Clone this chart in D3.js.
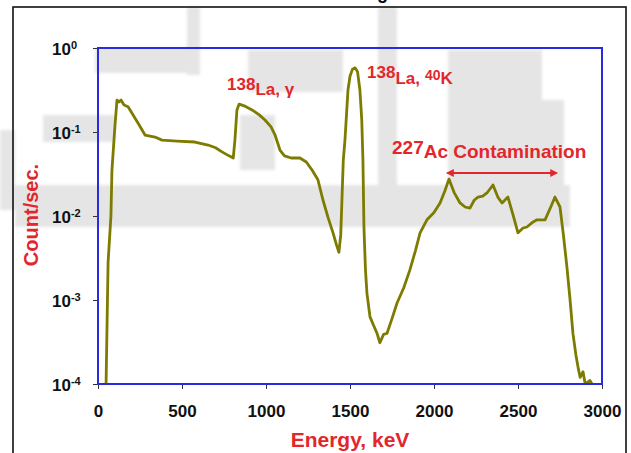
<!DOCTYPE html>
<html lang="en">
<head>
    <meta charset="UTF-8">
    <script src="https://cdnjs.cloudflare.com/ajax/libs/d3/7.8.5/d3.min.js"></script>
    <title>Spectrum</title>
    <style>
        body { margin: 0; background: #fff; }
        text { font-family: Arial, "Liberation Sans", sans-serif; font-weight: bold; }
    </style>
</head>
<body>
    <div class="fig"></div>

    <script>
        // Spectrum (energy in keV, counts per second)
        const energy = [48, 60, 77, 83, 101, 113, 125, 137, 155, 179, 238, 280, 339, 381, 470, 577, 655, 700, 738, 780, 805,
            815, 827, 840, 870, 917, 960, 994, 1030, 1054, 1083, 1110, 1150, 1202, 1240, 1275, 1309, 1339, 1370, 1399,
            1420, 1434, 1445, 1452, 1460, 1470, 1488, 1500, 1515, 1530, 1545, 1559, 1570, 1577, 1583, 1592, 1601, 1619,
            1640, 1661, 1678, 1700, 1720, 1750, 1780, 1820, 1857, 1890, 1917, 1958, 2000, 2036, 2065, 2089, 2120, 2155,
            2185, 2214, 2240, 2262, 2290, 2315, 2351, 2380, 2405, 2440, 2470, 2500, 2530, 2553, 2590, 2613, 2661, 2695,
            2720, 2750, 2770, 2791, 2810, 2827, 2845, 2857, 2870, 2887, 2900, 2928, 2940];
        const counts = [1.0e-4, 2.8e-3, 1.0e-2, 3.5e-2, 0.12, 0.24, 0.228, 0.24, 0.21, 0.20, 0.128, 0.092, 0.087, 0.080, 0.078,
            0.076, 0.070, 0.065, 0.058, 0.052, 0.049,
            0.080, 0.183, 0.215, 0.205, 0.183, 0.16, 0.139, 0.115, 0.092, 0.061, 0.052, 0.049, 0.049, 0.044, 0.035, 0.027,
            0.0155, 0.0095, 0.0063,
            0.0045, 0.0037, 0.006, 0.0155, 0.046, 0.080, 0.316, 0.46, 0.56, 0.58, 0.52, 0.316, 0.139, 0.046, 0.0074, 0.0023,
            0.0012, 6.3e-4,
            5.0e-4, 4.0e-4, 3.1e-4, 3.9e-4, 4.0e-4, 6.0e-4, 9.2e-4, 1.4e-3, 2.3e-3, 3.9e-3, 6.3e-3, 9.0e-3, 0.011, 0.0143,
            0.020, 0.0275, 0.019, 0.0143,
            0.0128, 0.0124, 0.0155, 0.0168, 0.0172, 0.0188, 0.0234, 0.0168, 0.0143, 0.0168, 0.0104, 0.0063, 0.0072, 0.0074,
            0.0085, 0.0090, 0.0090, 0.0128,
            0.0168, 0.0128, 0.006, 0.0025, 1.0e-3, 4.0e-4, 2.2e-4, 1.6e-4, 1.2e-4, 1.4e-4, 1.0e-4, 1.1e-4, 1.0e-4];

        const xTicks = [0, 500, 1000, 1500, 2000, 2500, 3000];
        const yTicks = [1e-4, 1e-3, 1e-2, 1e-1, 1];
        const yTickExp = ["-4", "-3", "-2", "-1", "0"];

        // 227Ac contamination range marked by the arrow (keV) and its height
        const acRange = [2080, 2730];
        const acLevel = 0.0325;

        const width = 631, height = 453;
        const red = "#e3262b";

        const svg = d3.select(".fig").append("svg")
            .attr("width", width)
            .attr("height", height);

        // faint watermark behind everything
        const wm = [
            [187, 7, 13, 68], [95, 48, 105, 25], [43, 115, 72, 27], [0, 130, 15, 80],
            [248, 50, 95, 42], [378, 7, 19, 178], [448, 50, 94, 135], [542, 100, 22, 85],
            [15, 185, 555, 42], [240, 115, 35, 55]
        ];
        svg.append("defs").append("filter").attr("id", "soft")
            .append("feGaussianBlur").attr("stdDeviation", 1.5);
        svg.append("g").attr("filter", "url(#soft)")
            .selectAll("rect").data(wm).enter().append("rect")
            .attr("x", d => d[0]).attr("y", d => d[1])
            .attr("width", d => d[2]).attr("height", d => d[3])
            .attr("fill", "#e5e5e5");

        // outer frame of the figure
        svg.append("rect")
            .attr("x", 13).attr("y", 7)
            .attr("width", 613).attr("height", 460)
            .attr("fill", "none").attr("stroke", "#111").attr("stroke-width", 1.6);

        // caption line above, cut off by the crop
        svg.append("text").attr("x", 377).attr("y", -1)
            .attr("font-size", 18).attr("font-weight", "normal").text("g");

        const x = d3.scaleLinear().domain([0, 3000]).range([98, 602]);
        const y = d3.scaleLog().domain([1e-4, 1]).range([384, 48]);

        svg.append("clipPath").attr("id", "plot")
            .append("rect").attr("x", 98).attr("y", 48).attr("width", 504).attr("height", 336);

        const line = d3.line()
            .x((d, i) => x(energy[i]))
            .y(d => y(d));

        svg.append("path")
            .datum(counts)
            .attr("clip-path", "url(#plot)")
            .attr("d", line)
            .attr("fill", "none")
            .attr("stroke", "#7d7b00")
            .attr("stroke-width", 2.8)
            .attr("stroke-linejoin", "round");

        // axes
        const xAxis = svg.append("g")
            .attr("transform", "translate(0,384)")
            .call(d3.axisBottom(x).tickValues(xTicks).tickSize(5).tickSizeOuter(0).tickFormat(d3.format("d")));
        xAxis.select(".domain").remove();
        xAxis.selectAll("line").attr("stroke", "#333");
        xAxis.selectAll("text")
            .attr("y", 33).attr("dy", 0)
            .attr("font-size", 17)
            .attr("font-family", "Arial, 'Liberation Sans', sans-serif")
            .attr("fill", "#111");

        const yAxis = svg.append("g")
            .attr("transform", "translate(98,0)")
            .call(d3.axisLeft(y).tickValues(yTicks).tickSize(5).tickSizeOuter(0).tickFormat(""));
        yAxis.select(".domain").remove();
        yAxis.selectAll("line").attr("stroke", "#333");
        yAxis.selectAll(".tick text").remove();
        yAxis.selectAll(".tick").append("text")
            .attr("x", -46).attr("y", 6)
            .attr("text-anchor", "start")
            .attr("fill", "#111")
            .attr("font-size", 17)
            .attr("font-family", "Arial, 'Liberation Sans', sans-serif")
            .each(function (d, i) {
                const t = d3.select(this);
                t.append("tspan").text("10");
                t.append("tspan").attr("dy", -6).attr("font-size", 11).text(yTickExp[i]);
            });

        // plot frame
        svg.append("rect")
            .attr("x", 98).attr("y", 48).attr("width", 504).attr("height", 336)
            .attr("fill", "none").attr("stroke", "#2a2ae0").attr("stroke-width", 2);

        // axis titles
        svg.append("text")
            .attr("transform", "translate(38,215) rotate(-90)")
            .attr("text-anchor", "middle")
            .attr("font-size", 20).attr("fill", red)
            .text("Count/sec.");

        svg.append("text")
            .attr("x", 350).attr("y", 447)
            .attr("text-anchor", "middle")
            .attr("font-size", 21).attr("fill", red)
            .text("Energy, keV");

        // peak labels
        const lab1 = svg.append("text").attr("x", 227).attr("y", 90)
            .attr("font-size", 17).attr("fill", red);
        lab1.append("tspan").text("138");
        lab1.append("tspan").attr("dy", 5).text("La, γ");

        const lab2 = svg.append("text").attr("x", 367).attr("y", 78)
            .attr("font-size", 17).attr("fill", red);
        lab2.append("tspan").text("138");
        lab2.append("tspan").attr("dy", 6).text("La,");
        lab2.append("tspan").attr("dx", 5).attr("dy", -4).attr("font-size", 14).text("40");
        lab2.append("tspan").attr("dy", 4).text("K");

        const lab3 = svg.append("text").attr("x", 392).attr("y", 154)
            .attr("font-size", 19).attr("fill", red);
        lab3.append("tspan").text("227");
        lab3.append("tspan").attr("dy", 4).text("Ac Contamination");

        // double arrow over the contamination region
        const head = svg.select("defs").append("marker")
            .attr("id", "head")
            .attr("viewBox", "0 0 10 10")
            .attr("refX", 8).attr("refY", 5)
            .attr("markerWidth", 4).attr("markerHeight", 4)
            .attr("orient", "auto-start-reverse");
        head.append("path").attr("d", "M0,0L10,5L0,10z").attr("fill", red);

        svg.append("line")
            .attr("x1", x(acRange[0])).attr("x2", x(acRange[1]))
            .attr("y1", y(acLevel)).attr("y2", y(acLevel))
            .attr("stroke", red).attr("stroke-width", 2)
            .attr("marker-start", "url(#head)")
            .attr("marker-end", "url(#head)");
    </script>
</body>
</html>
